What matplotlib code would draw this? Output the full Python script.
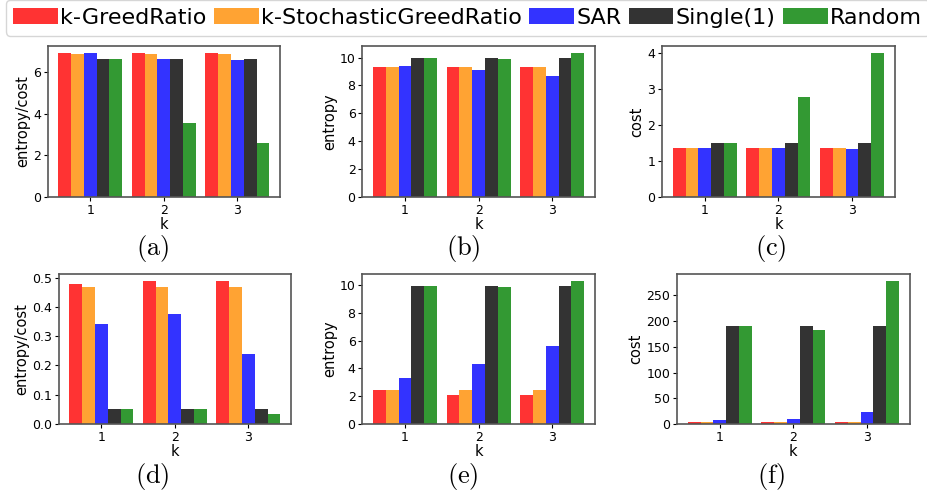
import numpy as np
from matplotlib import pyplot as plt
from matplotlib.patches import Patch

plt.rcParams['mathtext.fontset'] = 'cm'

ks = [1, 2, 3]
methods = ['k-GreedRatio', 'k-StochasticGreedRatio', 'SAR', 'Single(1)', 'Random']
colors = ['red', 'darkorange', 'blue', 'black', 'green']

# top row
ratio_a = [[6.93, 6.93, 6.93], [6.88, 6.88, 6.88], [6.93, 6.64, 6.59], [6.64, 6.64, 6.64], [6.64, 3.55, 2.59]]
entropy_b = [[9.31, 9.31, 9.31], [9.31, 9.31, 9.31], [9.38, 9.09, 8.66], [9.95, 9.95, 9.95], [9.95, 9.88, 10.31]]
cost_c = [[1.355, 1.355, 1.355], [1.355, 1.355, 1.355], [1.355, 1.355, 1.327], [1.494, 1.494, 1.494], [1.494, 2.775, 4.0]]
# bottom row
ratio_d = [[0.478, 0.489, 0.489], [0.468, 0.468, 0.468], [0.342, 0.376, 0.239], [0.0513, 0.0513, 0.0513], [0.0513, 0.0513, 0.0342]]
entropy_e = [[2.45, 2.09, 2.09], [2.45, 2.45, 2.45], [3.32, 4.33, 5.63], [9.95, 9.95, 9.95], [9.95, 9.88, 10.31]]
cost_f = [[3.9, 3.9, 3.9], [3.9, 3.9, 3.9], [7.8, 9.7, 23.4], [191, 191, 191], [191, 183, 278.6]]

panels = [
    (ratio_a, 'entropy/cost', '(a)', [0.0514, 0.6004, 0.2503, 0.3063]),
    (entropy_b, 'entropy', '(b)', [0.3906, 0.6004, 0.2503, 0.3063]),
    (cost_c, 'cost', '(c)', [0.7137, 0.6004, 0.2503, 0.3063]),
    (ratio_d, 'entropy/cost', '(d)', [0.0633, 0.14, 0.2503, 0.305]),
    (entropy_e, 'entropy', '(e)', [0.3906, 0.14, 0.2503, 0.305]),
    (cost_f, 'cost', '(f)', [0.7298, 0.14, 0.2503, 0.305]),
]
caption_x = [153, 463, 771, 152, 463, 771]
caption_y = [248, 248, 248, 477, 477, 477]

fig = plt.figure(figsize=(9.28, 4.93), dpi=100)
width = 0.174
x = np.array(ks)
for n, (data, ylab, cap, pos) in enumerate(panels):
    ax = fig.add_axes(pos)
    for i in range(len(methods)):
        ax.bar(x + (i - 2) * width, data[i], width, color=colors[i], alpha=0.8)
    ax.set_xticks(ks)
    ax.set_xlabel('k', fontsize=10.5, labelpad=0)
    ax.set_ylabel(ylab, fontsize=10.5, labelpad=2)
    ax.tick_params(labelsize=9, length=3, pad=2)
    for s in ax.spines.values():
        s.set_color('#555555')
        s.set_linewidth(1.2)
    fig.text(caption_x[n] / 928, 1 - caption_y[n] / 493, r'$(\mathrm{%s})$' % cap[1],
             ha='center', va='center', fontsize=19)

handles = [Patch(facecolor=c, alpha=0.8) for c in colors]
fig.legend(handles, methods, loc='upper left', bbox_to_anchor=(0.006, 1.0), ncol=5,
           fontsize=16, handlelength=2.0, handleheight=0.72, handletextpad=0.1,
           columnspacing=0.35, borderpad=0.35, borderaxespad=0.0)

plt.savefig('out.png')
